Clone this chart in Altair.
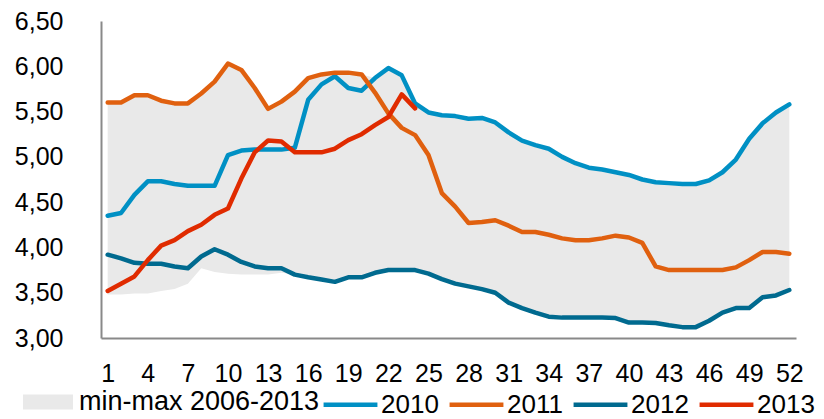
import altair as alt
import pandas as pd

weeks = list(range(1, 53))

y2010 = [4.35, 4.38, 4.58, 4.73, 4.73, 4.70, 4.68, 4.68, 4.68, 5.02,
         5.07, 5.08, 5.08, 5.08, 5.10, 5.63, 5.80, 5.89, 5.76, 5.73,
         5.87, 5.98, 5.90, 5.59, 5.49, 5.46, 5.45, 5.42, 5.43, 5.38,
         5.27, 5.18, 5.13, 5.09, 5.00, 4.93, 4.88, 4.86, 4.83, 4.80,
         4.75, 4.72, 4.71, 4.70, 4.70, 4.74, 4.83, 4.97, 5.20, 5.37,
         5.49, 5.58]

y2011 = [5.60, 5.60, 5.68, 5.68, 5.62, 5.59, 5.59, 5.70, 5.83, 6.03,
         5.96, 5.76, 5.53, 5.61, 5.72, 5.87, 5.91, 5.93, 5.93, 5.91,
         5.71, 5.48, 5.32, 5.24, 5.02, 4.60, 4.45, 4.27, 4.28, 4.30,
         4.24, 4.17, 4.17, 4.14, 4.10, 4.08, 4.08, 4.10, 4.13, 4.11,
         4.05, 3.79, 3.75, 3.75, 3.75, 3.75, 3.75, 3.78, 3.86, 3.95,
         3.95, 3.93]

y2012 = [3.92, 3.88, 3.83, 3.82, 3.82, 3.79, 3.77, 3.90, 3.98, 3.92,
         3.84, 3.79, 3.77, 3.77, 3.70, 3.67, 3.645, 3.62, 3.67, 3.67,
         3.72, 3.75, 3.75, 3.75, 3.71, 3.65, 3.60, 3.57, 3.54, 3.50,
         3.39, 3.33, 3.28, 3.235, 3.225, 3.225, 3.225, 3.225, 3.22, 3.17,
         3.17, 3.165, 3.14, 3.12, 3.12, 3.19, 3.28, 3.33, 3.33, 3.45,
         3.47, 3.53]

y2013 = [3.52, 3.60, 3.68, 3.86, 4.02, 4.08, 4.18, 4.25, 4.36, 4.43,
         4.76, 5.05, 5.18, 5.17, 5.05, 5.05, 5.05, 5.09, 5.185, 5.25,
         5.35, 5.44, 5.69, 5.535]

band_min = [3.48, 3.48, 3.49, 3.49, 3.52, 3.54, 3.60, 3.77, 3.73, 3.71,
            3.70, 3.70, 3.70, 3.72, 3.70, 3.67, 3.645, 3.62, 3.67, 3.67,
            3.72, 3.75, 3.75, 3.75, 3.71, 3.65, 3.60, 3.57, 3.54, 3.50,
            3.39, 3.33, 3.28, 3.235, 3.225, 3.225, 3.225, 3.225, 3.22, 3.17,
            3.17, 3.165, 3.14, 3.12, 3.12, 3.19, 3.28, 3.33, 3.33, 3.45,
            3.47, 3.53]

band_max = [5.60, 5.60, 5.68, 5.68, 5.62, 5.59, 5.59, 5.70, 5.83, 6.03,
            5.96, 5.76, 5.53, 5.61, 5.72, 5.87, 5.91, 5.93, 5.93, 5.91,
            5.87, 5.98, 5.90, 5.59, 5.49, 5.46, 5.45, 5.42, 5.43, 5.38,
            5.27, 5.18, 5.13, 5.09, 5.00, 4.93, 4.88, 4.86, 4.83, 4.80,
            4.75, 4.72, 4.71, 4.70, 4.70, 4.74, 4.83, 4.97, 5.20, 5.37,
            5.49, 5.58]

years = ["2010", "2011", "2012", "2013"]
year_colors = ["#0090C4", "#E0600F", "#006A8F", "#E02B00"]
year_widths = [4.5, 4.5, 4.5, 6.5]
band_label = "min-max 2006-2013"
x_ticks = list(range(1, 53, 3))
y_ticks = [3.0, 3.5, 4.0, 4.5, 5.0, 5.5, 6.0, 6.5]

rows = []
for yr, vals in zip(years, [y2010, y2011, y2012, y2013]):
    for w, v in zip(weeks, vals):
        rows.append({"week": w, "value": v, "year": yr})
lines_df = pd.DataFrame(rows)

band_df = pd.DataFrame({"week": weeks, "lo": band_min, "hi": band_max,
                        "band": [band_label] * len(weeks)})

FONT = "Liberation Sans"

x_enc = alt.X("week:Q",
              scale=alt.Scale(domain=[0.5, 52.5], nice=False, zero=False),
              axis=alt.Axis(values=x_ticks, title=None, grid=False, ticks=False,
                            labelFontSize=25, labelPadding=23, labelFont=FONT,
                            labelColor="black", domainColor="#898989",
                            domainWidth=2, labelFlush=False))

y_scale = alt.Scale(domain=[3.0, 6.5], nice=False, zero=False)
y_axis = alt.Axis(values=y_ticks, title=None, grid=False, ticks=False,
                  labelFontSize=25, labelPadding=38, labelFont=FONT,
                  labelColor="black", domainColor="#898989", domainWidth=2,
                  labelExpr="replace(format(datum.value, '.2f'), '.', ',')")

band = alt.Chart(band_df).mark_area(opacity=1).encode(
    x=x_enc,
    y=alt.Y("lo:Q", scale=y_scale, axis=y_axis),
    y2="hi:Q",
    fill=alt.Fill("band:N", scale=alt.Scale(domain=[band_label], range=["#e9e9e9"]),
                  legend=alt.Legend(title=None, orient="none", legendX=-78, legendY=356,
                                    symbolType="M-1,-0.3H1V0.3H-1Z", symbolSize=2500,
                                    symbolStrokeWidth=0, labelFontSize=27, labelFont=FONT,
                                    labelColor="black", labelOffset=6, labelLimit=500,
                                    padding=0)),
)

leg = alt.Legend(title=None, orient="none", direction="horizontal",
                 legendX=220, legendY=354, symbolType="stroke", symbolSize=2900,
                 symbolStrokeWidth=5, labelFontSize=26, labelFont=FONT,
                 labelColor="black", labelOffset=1, columnPadding=1,
                 labelLimit=200, padding=0)

lines = alt.Chart(lines_df).mark_line(strokeCap="round", strokeJoin="round").encode(
    x=x_enc,
    y=alt.Y("value:Q", scale=y_scale, axis=y_axis),
    color=alt.Color("year:N", scale=alt.Scale(domain=years, range=year_colors), legend=leg),
    strokeWidth=alt.StrokeWidth("year:N", scale=alt.Scale(domain=years, range=year_widths),
                                legend=leg),
    order=alt.Order("week:Q"),
)

chart = alt.layer(band, lines).properties(
    width=695, height=317,
    autosize=alt.AutoSizeParams(type="none"),
    padding={"left": 93, "top": 13, "right": 20, "bottom": 81},
    background="white",
).configure_view(stroke=None)

chart.save("out.html", embed_options={"renderer": "svg", "actions": False})
